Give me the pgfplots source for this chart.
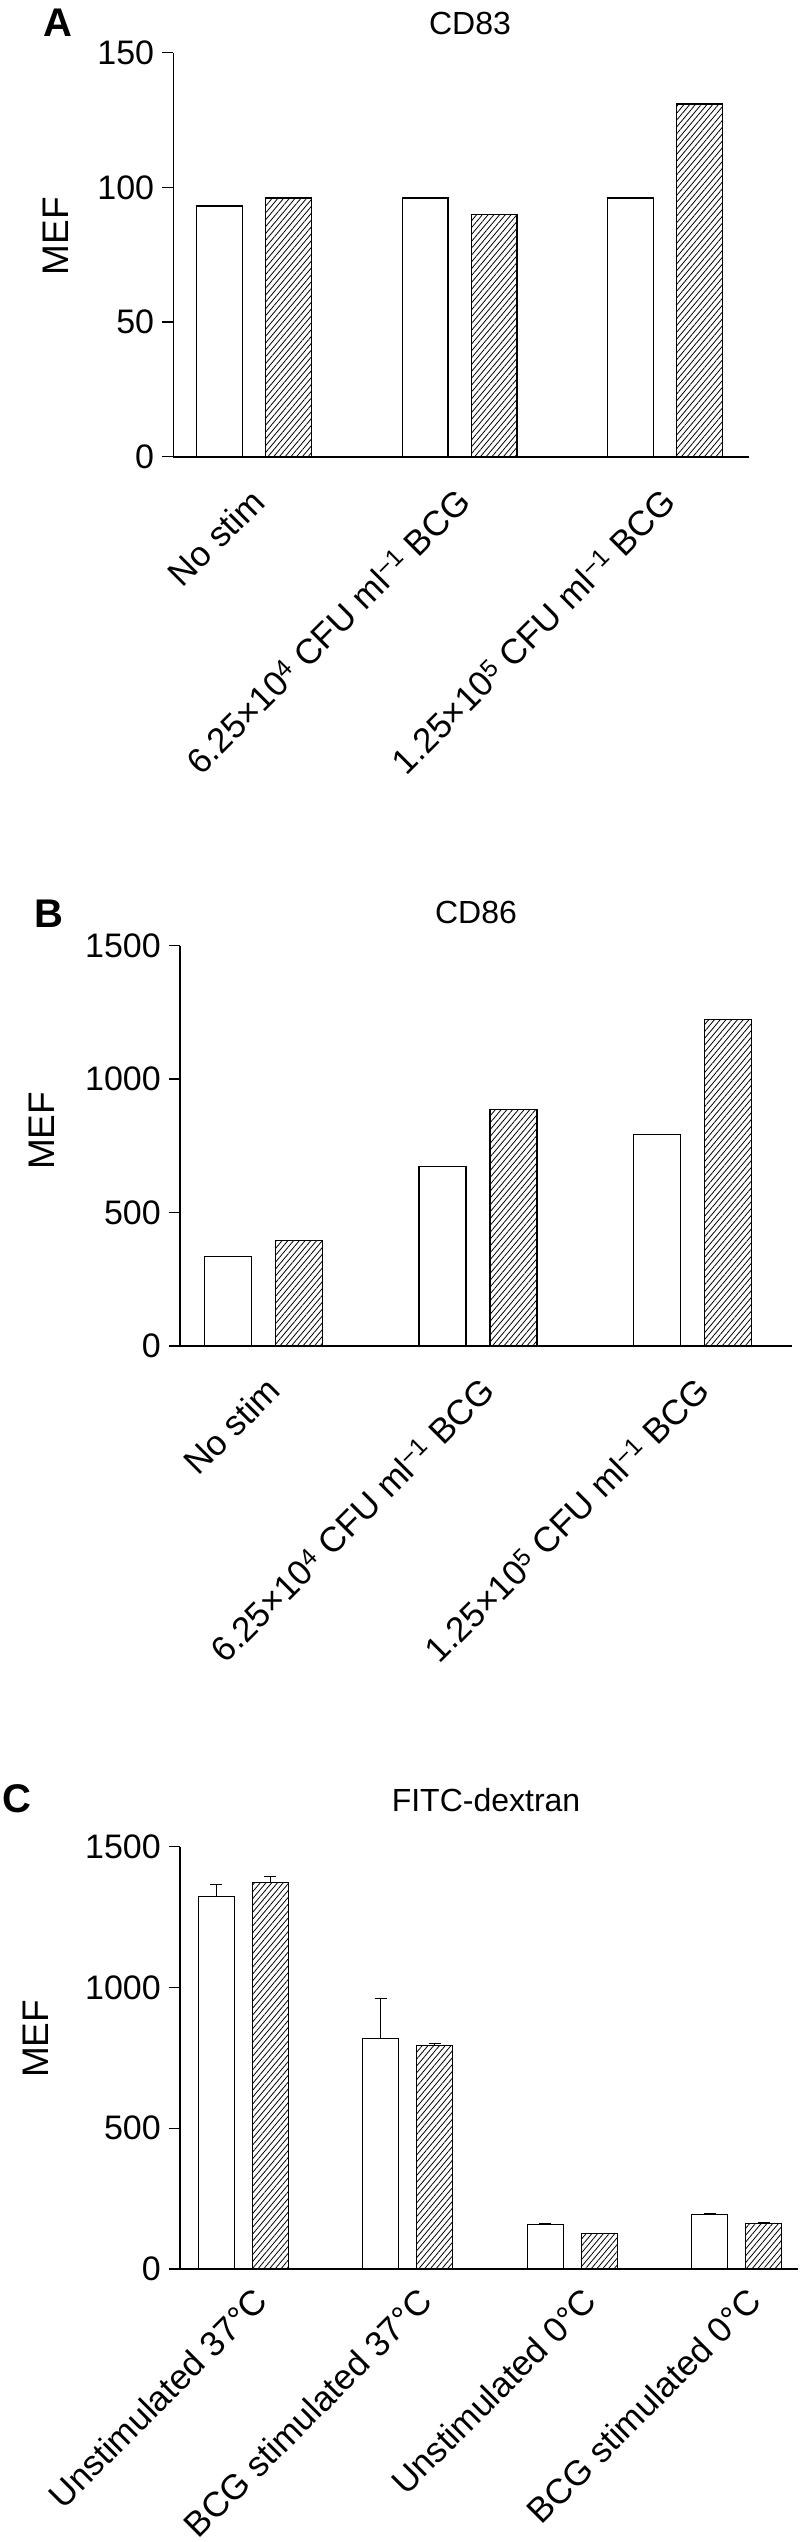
\documentclass[border=0pt]{standalone}
\usepackage{fontspec}
\setmainfont{Liberation Sans}
\usepackage{pgfplots}
\pgfplotsset{compat=1.18}
\usetikzlibrary{patterns.meta}

\pgfplotsset{
  fig/.style={
    axis lines=left,
    axis line style={-, line width=1.4pt},
    x axis line style={line width=2pt},
    scale only axis,
    anchor=south west,
    ymin=0,
    ybar,
    tick align=outside,
    major tick length=11pt,
    ytick style={line width=1.4pt, black},
    xtick style={draw=none},
    /pgf/number format/assume math mode=true,
    /pgf/number format/1000 sep={},
    scaled y ticks=false,
    yticklabel style={font=\fontsize{34}{40}\selectfont, inner sep=0pt, xshift=-8pt},
    ylabel={MEF},
    ylabel style={font=\fontsize{37}{44}\selectfont, anchor=center},
    clip=false,
  },
  wbar/.style={draw=black, line width=1.3pt, fill=white},
  hbar/.style={draw=black, line width=1.3pt, pattern={Lines[angle=50,distance=4.4pt,line width=0.8pt]}},
}

\begin{document}
\begin{tikzpicture}
\path[use as bounding box] (0,0) rectangle (800pt,-2542pt);

% Panel A
\node[anchor=base west, inner sep=0pt, font=\fontsize{40}{46}\selectfont\bfseries] at (43pt,-37pt) {A};
\node[anchor=base, inner sep=0pt, font=\fontsize{32}{38}\selectfont] at (470pt,-35pt) {CD83};
\begin{axis}[fig, at={(173.3pt,-456.5pt)}, width=575.7pt, height=403.8pt,
  xmin=-0.3925, xmax=2.4076, ymax=150, ytick={0,50,100,150},
  xtick={0,1,2}, bar width=45.8pt,
  xticklabels={No stim, {6.25×10\textsuperscript{4} CFU ml\textsuperscript{−1} BCG}, {1.25×10\textsuperscript{5} CFU ml\textsuperscript{−1} BCG}},
  xticklabel style={font=\fontsize{35}{42}\selectfont, inner sep=0pt, xshift=4pt, yshift=-28pt, rotate=45, anchor=east},
  ylabel style={at={(axis description cs:-0.2044,0.546)}}]
\addplot[wbar, bar shift=-34.5pt] coordinates {(0,93) (1,96) (2,96)};
\addplot[hbar, bar shift=34.5pt] coordinates {(0,96) (1,90) (2,131)};
\end{axis}

% Panel B
\node[anchor=base west, inner sep=0pt, font=\fontsize{40}{46}\selectfont\bfseries] at (34pt,-927pt) {B};
\node[anchor=base, inner sep=0pt, font=\fontsize{32}{38}\selectfont] at (476pt,-923pt) {CD86};
\begin{axis}[fig, at={(180pt,-1346pt)}, width=612pt, height=400.5pt,
  xmin=-0.3893, xmax=2.464, ymax=1500, ytick={0,500,1000,1500},
  xtick={0,1,2}, bar width=47pt,
  xticklabels={No stim, {6.25×10\textsuperscript{4} CFU ml\textsuperscript{−1} BCG}, {1.25×10\textsuperscript{5} CFU ml\textsuperscript{−1} BCG}},
  xticklabel style={font=\fontsize{35}{42}\selectfont, inner sep=0pt, xshift=10pt, yshift=-27pt, rotate=45, anchor=east},
  ylabel style={at={(axis description cs:-0.2263,0.537)}}]
\addplot[wbar, bar shift=-35.5pt] coordinates {(0,335) (1,672) (2,793)};
\addplot[hbar, bar shift=35.5pt] coordinates {(0,395) (1,885) (2,1223)};
\end{axis}

% Panel C
\node[anchor=base west, inner sep=0pt, font=\fontsize{40}{46}\selectfont\bfseries] at (2pt,-1812pt) {C};
\node[anchor=base, inner sep=0pt, font=\fontsize{32}{38}\selectfont] at (486pt,-1811.7pt) {FITC-dextran};
\begin{axis}[fig, at={(180pt,-2269pt)}, width=618pt, height=422.3pt,
  xmin=-0.3842, xmax=3.3726, ymax=1500, ytick={0,500,1000,1500},
  xtick={0,1,2,3}, bar width=36pt,
  xticklabels={Unstimulated 37°C, BCG stimulated 37°C, Unstimulated 0°C, BCG stimulated 0°C},
  xticklabel style={font=\fontsize{35}{42}\selectfont, inner sep=0pt, xshift=18pt, yshift=-15pt, rotate=45, anchor=east},
  ylabel style={at={(axis description cs:-0.2338,0.545)}},
  error bars/y dir=plus, error bars/y explicit,
  error bars/error bar style={line width=1.3pt, black},
  error bars/error mark options={line width=1.3pt, black, mark size=6pt, rotate=90}]
\addplot[wbar, bar shift=-27pt] table[x=x, y=y, y error=e] {
x y e
0 1322 44
1 819 142
2 157 4
3 194 4
};
\addplot[hbar, bar shift=27pt] table[x=x, y=y, y error=e] {
x y e
0 1373 22
1 795 7
2 126 1
3 161 2
};
\end{axis}
\end{tikzpicture}
\end{document}
